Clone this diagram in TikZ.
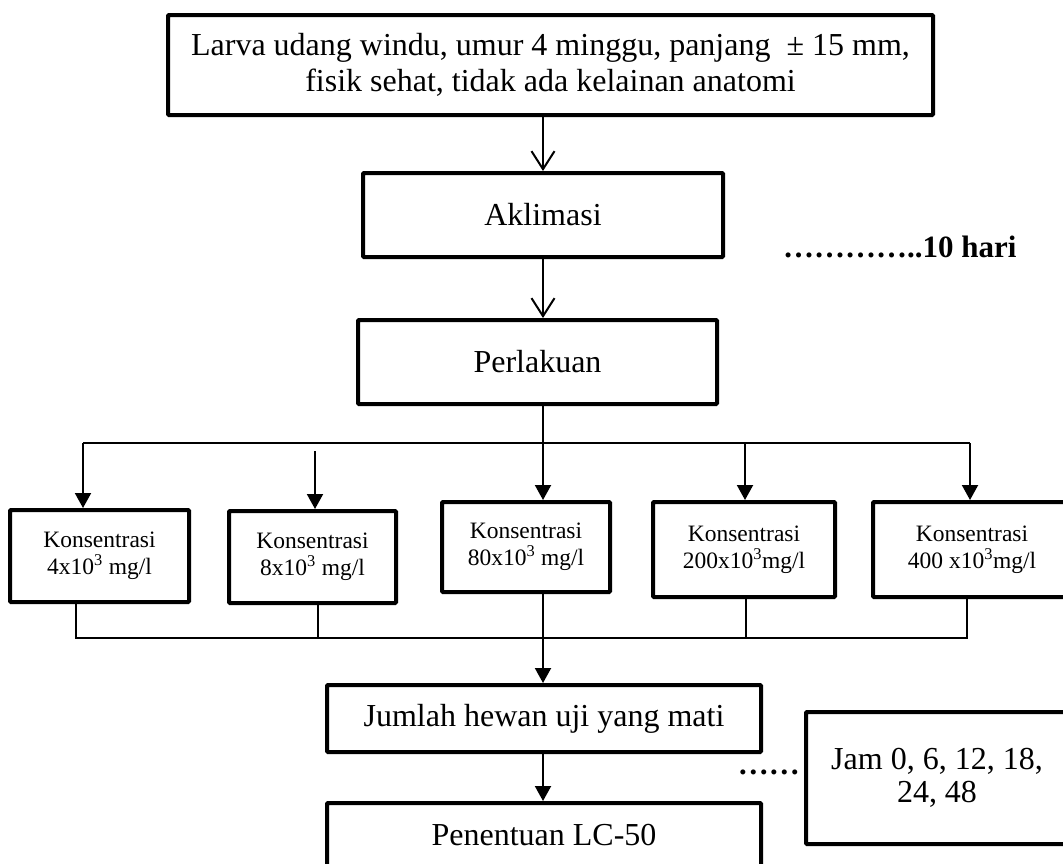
\documentclass[tikz,border=0pt]{standalone}
\usepackage{fontspec}
\setmainfont{Liberation Serif}
\usetikzlibrary{arrows.meta}
\begin{document}
\begin{tikzpicture}[x=1pt,y=-1pt,
  box/.style={draw, line width=4pt, rounded corners=1pt, rectangle, align=center, inner sep=0pt, font=\fontsize{32}{36}\selectfont},
  kbox/.style={box, font=\fontsize{23.5}{27}\selectfont},
  conn/.style={line width=2pt},
  vto/.style={conn, -{Straight Barb[length=18pt,width=23pt,line width=2pt]}},
  tri/.style={conn, -{Triangle[length=15pt,width=16pt]}},
  lbl/.style={font=\fontsize{31}{36}\selectfont\bfseries, inner sep=0pt}
]
\useasboundingbox (0,0) rectangle (1063,863);
\clip (0,0) rectangle (1063,863);

% columns for connectors
\coordinate (col)  at (543,0);
\coordinate (c1)   at (83,443);
\coordinate (c2)   at (315,451);
\coordinate (c4)   at (745,443);
\coordinate (c5)   at (970,443);
\coordinate (b1)   at (76,638);
\coordinate (b2)   at (318,638);
\coordinate (b4)   at (746,638);
\coordinate (b5)   at (967,638);

\node[box, minimum width=765pt, minimum height=100pt] (top) at (550.5,65)
  {Larva udang windu, umur 4 minggu, panjang\ \ ± 15 mm,\\ fisik sehat, tidak ada kelainan anatomi};
\node[box, minimum width=360pt, minimum height=84pt] (akl) at (543,215) {Aklimasi};
\node[box, minimum width=359pt, minimum height=84pt] (perl) at (537.5,362) {Perlakuan};
\node[lbl, anchor=base west] (hari) at (783,257) {…………..10 hari};

\node[kbox, minimum width=179pt, minimum height=92pt] (k1) at (99.5,556) {Konsentrasi\\4x10\textsuperscript{3} mg/l};
\node[kbox, minimum width=167pt, minimum height=92pt] (k2) at (312.5,557) {Konsentrasi\\8x10\textsuperscript{3} mg/l};
\node[kbox, minimum width=168pt, minimum height=90pt] (k3) at (526,547) {Konsentrasi\\80x10\textsuperscript{3} mg/l};
\node[kbox, minimum width=182pt, minimum height=95pt] (k4) at (744,549.5) {Konsentrasi\\200x10\textsuperscript{3}mg/l};
\node[kbox, minimum width=198pt, minimum height=95pt] (k5) at (972,549.5) {Konsentrasi\\400 x10\textsuperscript{3}mg/l};

\node[box, minimum width=434pt, minimum height=67pt] (jml) at (544,718.5) {Jumlah hewan uji yang mati};
\node[box, minimum width=434pt, minimum height=64pt] (pen) at (544,835) {Penentuan LC-50};
\node[box, minimum width=262pt, minimum height=132pt, font=\fontsize{32}{33}\selectfont] (jam) at (937,778) {Jam 0, 6, 12, 18,\\24, 48};
\node[lbl, anchor=base east] (dots) at (800,774) {……};

% main flow
\draw[vto] (top.south -| col) -- (akl.north -| col);
\draw[vto] (akl.south -| col) -- (perl.north -| col);
\draw[tri] (perl.south -| col) -- (k3.north -| col);

% distribution line
\draw[conn] (c1) -- (c5);
\draw[tri] (c1) -- (k1.north -| c1);
\draw[tri] (c2) -- (k2.north -| c2);
\draw[tri] (c4) -- (k4.north -| c4);
\draw[tri] (c5) -- (k5.north -| c5);

% collecting line
\draw[conn] (k1.south -| b1) -- (b1) -- (b5) -- (k5.south -| b5);
\draw[conn] (k2.south -| b2) -- (b2);
\draw[conn] (k4.south -| b4) -- (b4);
\draw[tri] (k3.south -| col) -- (jml.north -| col);
\draw[tri] (jml.south -| col) -- (pen.north -| col);
\end{tikzpicture}
\end{document}
